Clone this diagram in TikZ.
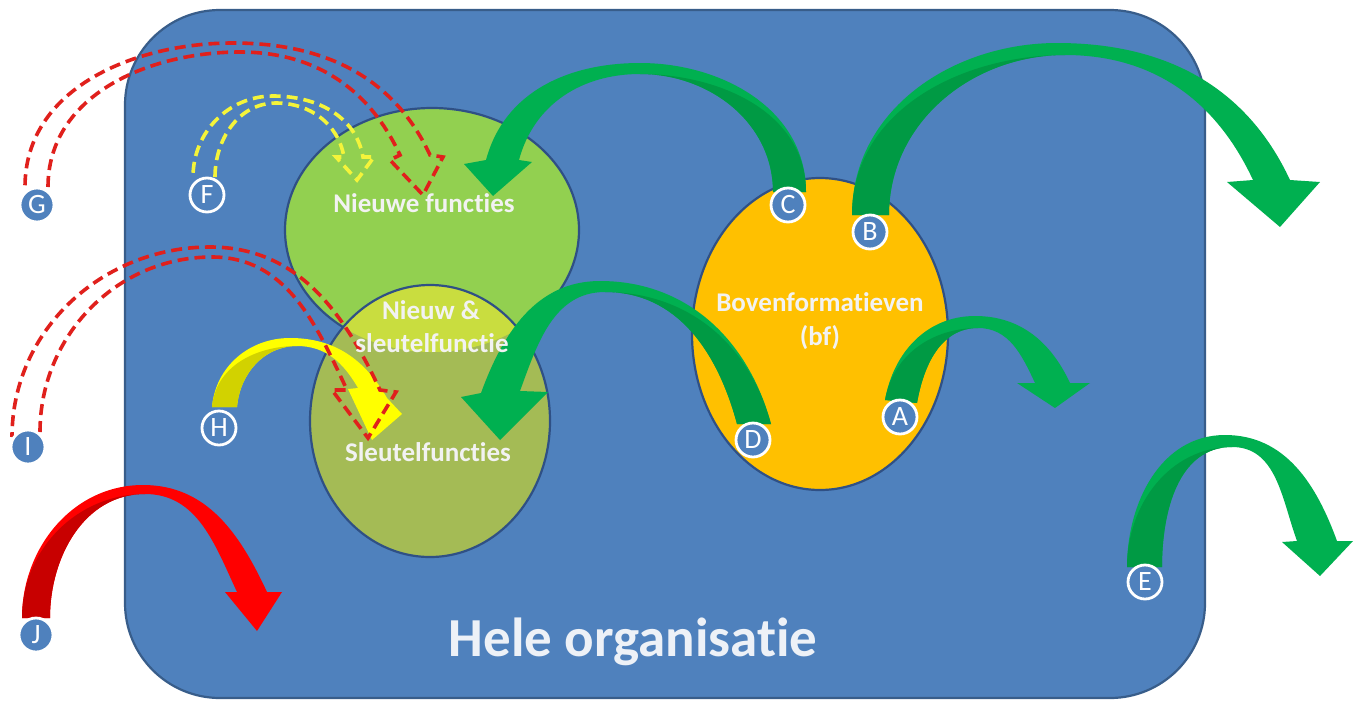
\documentclass[tikz,border=0pt]{standalone}
\usepackage{fontspec}
\setmainfont{Carlito}[Ligatures=NoCommon]
\definecolor{boxblue}{HTML}{4F81BD}
\definecolor{boxedge}{HTML}{385D8A}
\definecolor{elledge}{HTML}{2F5085}
\definecolor{nfgreen}{HTML}{92D050}
\definecolor{sfolive}{HTML}{A4BB55}
\definecolor{ovgreen}{HTML}{C9DD3F}
\definecolor{bforange}{HTML}{FFC000}
\definecolor{glight}{HTML}{00B050}
\definecolor{gdark}{HTML}{009A44}
\definecolor{rlight}{HTML}{FF0000}
\definecolor{rdark}{HTML}{C80000}
\definecolor{ylight}{HTML}{FFFF00}
\definecolor{ydark}{HTML}{D2D200}
\definecolor{rdash}{HTML}{E0201C}
\definecolor{ydash}{HTML}{F4F43A}
\definecolor{txtwhite}{HTML}{F2F2F2}
\definecolor{bigtxt}{HTML}{EDF1F7}
\tikzset{
  lbl/.style={circle, fill=boxblue, draw=white, line width=2.8pt, minimum size=34pt,
    inner sep=0pt, text=white, font=\fontsize{28}{28}\selectfont},
  txt/.style={text=txtwhite, font=\fontsize{27}{30}\selectfont\bfseries, inner sep=0pt},
  reddash/.style={draw=rdash, line width=3.6pt, dash pattern=on 11pt off 6pt},
  yeldash/.style={draw=ydash, line width=3.6pt, dash pattern=on 11pt off 6pt},
  ellline/.style={draw=elledge, line width=2.2pt}
}
\begin{document}
\begin{tikzpicture}[x=1pt,y=1pt]
\useasboundingbox (0,0) rectangle (1362,-702);
\fill[white] (0,0) rectangle (1362,-702);

% whole organisation
\draw[fill=boxblue, draw=boxedge, line width=2.2pt, rounded corners=95pt]
  (125,-10) rectangle (1205,-698);

% Nieuwe functies ellipse
\filldraw[fill=nfgreen, ellline] (432,-230) ellipse [x radius=147pt, y radius=122pt];
% Sleutelfuncties ellipse
\fill[sfolive] (430,-421) ellipse [x radius=120pt, y radius=136pt];
\begin{scope}
  \clip (432,-230) ellipse [x radius=147pt, y radius=122pt];
  \fill[ovgreen] (430,-421) ellipse [x radius=120pt, y radius=136pt];
\end{scope}
\draw[ellline] (430,-421) ellipse [x radius=120pt, y radius=136pt];
% Bovenformatieven ellipse
\filldraw[fill=bforange, ellline] (820,-334) ellipse [x radius=128pt, y radius=156pt];

% ---- green arrow C (to Nieuwe functies)
\fill[glight] (806,-192) to[out=90,in=0] (640,-63) to[out=180,in=75] (486,-160)
  -- (464,-164) -- (493,-196) -- (532,-162) -- (519,-160)
  to[out=75,in=180] (640,-74) to[out=0,in=90] (773,-192) -- cycle;
\fill[gdark] (773,-192) to[out=90,in=0] (640,-74) to[out=0,in=90] (806,-192) -- cycle;

% ---- green arrow B (out of organisation)
\fill[glight] (852,-215) to[out=90,in=180] (1057,-43) to[out=0,in=115] (1290,-180)
  -- (1320,-182) -- (1280,-227) -- (1227,-182) -- (1253,-180)
  to[out=115,in=0] (1065,-55) to[out=180,in=90] (889,-215) -- cycle;
\fill[gdark] (889,-215) to[out=90,in=180] (1065,-55) to[out=180,in=90] (852,-215) -- cycle;

% ---- green arrow D (to Sleutelfuncties)
\fill[glight] (771,-424) to[out=105,in=0] (600,-281) to[out=180,in=70] (481,-393)
  -- (461,-397) -- (500,-440) -- (548,-392) -- (520,-391)
  to[out=70,in=180] (605,-292) to[out=0,in=105] (737,-424) -- cycle;
\fill[gdark] (737,-424) to[out=105,in=0] (605,-292) to[out=0,in=105] (771,-424) -- cycle;

% ---- green arrow A
\fill[glight] (885,-400) to[out=80,in=180] (975,-316) to[out=0,in=115] (1070,-383)
  -- (1090,-383) -- (1055,-408) -- (1017,-383) -- (1035,-383)
  to[out=115,in=0] (978,-328) to[out=180,in=80] (917,-403) -- cycle;
\fill[gdark] (917,-403) to[out=80,in=180] (978,-328) to[out=180,in=80] (885,-400) -- cycle;

% ---- green arrow E
\fill[glight] (1127,-567) to[out=90,in=180] (1225,-435) to[out=0,in=110] (1337,-541)
  -- (1353,-541) -- (1320,-576) -- (1282,-542) -- (1297,-541)
  to[out=110,in=0] (1232,-447) to[out=180,in=90] (1162,-567) -- cycle;
\fill[gdark] (1162,-567) to[out=90,in=180] (1232,-447) to[out=180,in=90] (1127,-567) -- cycle;

% ---- red arrow J
\fill[rlight] (22,-618) to[out=90,in=180] (143,-485) to[out=0,in=115] (267,-592)
  -- (282,-592) -- (257,-631) -- (225,-592) -- (237,-592)
  to[out=115,in=0] (145,-494) to[out=180,in=90] (50,-618) -- cycle;
\fill[rdark] (50,-618) to[out=90,in=180] (145,-494) to[out=180,in=90] (22,-618) -- cycle;

% ---- yellow arrow H
\fill[ylight] (212,-407) to[out=85,in=180] (290,-338) to[out=0,in=120] (387,-398)
  -- (402,-414) -- (372,-440) -- (348,-389) -- (358,-388)
  to[out=120,in=0] (297,-346) to[out=180,in=85] (237,-407) -- cycle;
\fill[ydark] (237,-407) to[out=85,in=180] (297,-346) to[out=180,in=85] (212,-407) -- cycle;

% ---- dashed arrow G (red)
\draw[reddash] (48,-187) to[out=90,in=180] (240,-52) to[out=0,in=115] (400,-155)
  -- (390,-160) -- (423,-195) -- (443,-157) -- (430,-155)
  to[out=115,in=0] (233,-43) to[out=180,in=90] (25,-187);

% ---- dashed arrow F (yellow)
\draw[yeldash] (215,-177) to[out=90,in=180] (276,-103) to[out=0,in=100] (344,-157)
  -- (336,-157) -- (357,-180) -- (374,-157) -- (363,-157)
  to[out=100,in=0] (273,-96) to[out=180,in=90] (193,-177);

% ---- dashed arrow I (red)
\draw[reddash] (40,-432) to[out=90,in=180] (212,-257) to[out=0,in=115] (347,-390)
  -- (332,-390) -- (368,-438) -- (396,-392) -- (380,-390)
  to[out=115,in=0] (210,-247) to[out=180,in=90] (12,-437);

% ---- texts
\node[txt] (nf) at (424,-203) {Nieuwe functies};
\node[txt] (ns1) at (431,-310) {Nieuw \&};
\node[txt] (ns2) at (432,-343) {sleutelfunctie};
\node[txt] (sf) at (428,-452) {Sleutelfuncties};
\node[txt] (bf1) at (820,-302) {Bovenformatieven};
\node[txt] (bf2) at (820,-338) {(bf)};
\node[text=bigtxt, font=\fontsize{55}{60}\selectfont\bfseries, inner sep=0pt] (org) at (633,-642) {Hele organisatie};

% ---- labels
\node[lbl] (G) at (37,-205) {G};
\node[lbl] (F) at (207,-195) {F};
\node[lbl] (I) at (28,-447) {I};
\node[lbl] (H) at (219,-428) {H};
\node[lbl] (J) at (36,-635) {J};
\node[lbl] (C) at (788,-205) {C};
\node[lbl] (B) at (870,-232) {B};
\node[lbl] (D) at (753,-440) {D};
\node[lbl] (A) at (900,-417) {A};
\node[lbl] (E) at (1145,-582) {E};
\end{tikzpicture}
\end{document}
